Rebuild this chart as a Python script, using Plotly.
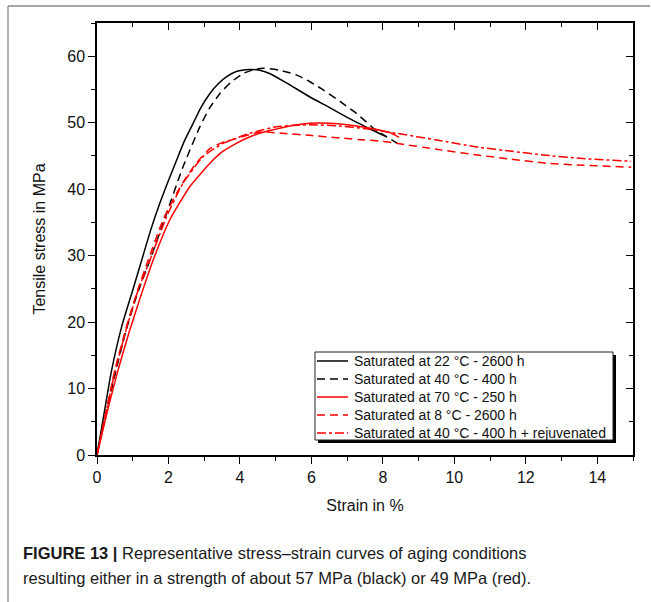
import plotly.graph_objects as go

# ---- data ----
names = [
    "Saturated at 22 °C - 2600 h",
    "Saturated at 40 °C - 400 h",
    "Saturated at 70 °C - 250 h",
    "Saturated at 8 °C - 2600 h",
    "Saturated at 40 °C - 400 h + rejuvenated",
]

strain_22 = [0, 0.2, 0.4, 0.7, 1.0, 1.25, 1.5, 1.76, 2.0, 2.23, 2.45, 2.69, 2.9, 3.16, 3.4, 3.62, 3.9,
             4.27, 4.55, 4.83, 5.3, 5.95, 6.5, 7.0, 7.4, 7.7, 8.1]
stress_22 = [0, 6.3, 12.5, 19.5, 24.8, 29.3, 33.8, 37.9, 41.3, 44.4, 47.3, 49.9, 52.2, 54.4, 55.9, 56.9, 57.7,
             58.0, 57.9, 57.4, 56.0, 53.9, 52.3, 50.8, 49.7, 48.9, 47.9]

strain_40 = [0, 0.25, 0.5, 0.8, 1.1, 1.48, 1.95, 2.41, 2.88, 3.15, 3.44, 3.75, 4.09, 4.4, 4.65, 5.1,
             5.58, 5.95, 6.31, 6.8, 7.26, 7.8, 8.1, 8.4]
stress_40 = [0, 6.2, 12.0, 18.5, 23.8, 29.3, 36.4, 43.4, 49.4, 52.2, 54.4, 56.1, 57.4, 58.0, 58.2, 57.9,
             57.2, 56.2, 55.0, 53.2, 51.4, 48.9, 47.9, 46.9]

strain_70 = [0, 0.3, 0.59, 0.9, 1.2, 1.57, 2.04, 2.6, 3.16, 3.5, 3.9, 4.2, 4.55, 4.9, 5.3, 5.95,
             6.5, 7.0, 7.5, 7.9, 8.2, 8.45]
stress_70 = [0, 6.8, 12.8, 18.5, 23.5, 29.3, 35.4, 40.4, 43.9, 45.6, 46.9, 47.7, 48.4, 48.9, 49.4, 49.9,
             49.9, 49.7, 49.3, 48.9, 48.5, 47.8]

strain_8 = [0, 0.25, 0.5, 0.85, 1.15, 1.43, 1.85, 2.23, 2.5, 2.78, 3.16, 3.5, 3.9, 4.55, 5.2, 5.95,
            6.8, 7.5, 8.0, 8.38, 9.5, 10.7, 11.6, 12.57, 13.6, 14.95]
stress_8 = [0, 6.5, 12.8, 19.8, 25.0, 29.3, 35.4, 39.4, 41.8, 43.9, 46.1, 47.0, 47.6, 48.6, 48.4, 48.1,
            47.7, 47.4, 47.2, 46.9, 46.0, 45.1, 44.5, 43.9, 43.6, 43.3]

strain_rej = [0, 0.25, 0.5, 0.85, 1.15, 1.48, 1.95, 2.41, 2.97, 3.53, 4.27, 5.02, 5.95, 6.8, 7.5, 8.0,
              8.38, 9.5, 10.7, 11.6, 12.57, 13.6, 14.95]
stress_rej = [0, 6.3, 12.5, 19.5, 24.8, 29.3, 35.9, 40.9, 44.9, 46.9, 48.4, 49.4, 49.7, 49.5, 49.1, 48.7,
              48.4, 47.4, 46.3, 45.7, 45.1, 44.6, 44.2]

x_ticks = [0, 2, 4, 6, 8, 10, 12, 14]
y_ticks = [0, 10, 20, 30, 40, 50, 60]

caption_bold = "FIGURE 13 |"
caption_1 = " Representative stress–strain curves of aging conditions"
caption_2 = "resulting either in a strength of about 57 MPa (black) or 49 MPa (red)."

# ---- geometry (pixels) ----
W, H = 651, 602
L, R, T, B = 97, 633, 23, 455
pw, ph = R - L, B - T


def px(xp):
    return (xp - L) / pw


def py(yp):
    return (B - yp) / ph


FONT = "Liberation Sans, Arial, sans-serif"

styles = [
    ("black", "solid"),
    ("black", "8px,5px"),
    ("#ff0000", "solid"),
    ("#ff0000", "8px,5px"),
    ("#ff0000", "9px,3px,3px,3px"),
]
curves = [
    (strain_22, stress_22),
    (strain_40, stress_40),
    (strain_70, stress_70),
    (strain_8, stress_8),
    (strain_rej, stress_rej),
]

fig = go.Figure()
for (xs, ys), (col, dash), nm in zip(curves, styles, names):
    fig.add_trace(go.Scatter(x=xs, y=ys, mode="lines", name=nm, showlegend=False,
                             line=dict(color=col, width=1.5, dash=dash, shape="spline", smoothing=0.5)))

axis_common = dict(showline=True, linecolor="black", linewidth=1.5, showgrid=False, zeroline=False,
                   tickcolor="black", tickwidth=1.3, ticklen=7)
tick_font = dict(family=FONT, size=16, color="#111")

fig.update_layout(
    width=W, height=H,
    margin=dict(l=L, r=W - R, t=T, b=H - B),
    paper_bgcolor="white", plot_bgcolor="white",
    showlegend=False,
    xaxis=dict(range=[0, 15], tickvals=x_ticks, ticks="outside", tickfont=tick_font,
               minor=dict(dtick=1, ticks="outside", ticklen=4, tickcolor="black", tickwidth=1.3),
               title=dict(text="Strain in %", font=dict(family=FONT, size=16, color="#111"), standoff=15),
               **axis_common),
    yaxis=dict(range=[0, 65], tickvals=y_ticks, ticks="outside", tickfont=tick_font,
               minor=dict(dtick=5, ticks="outside", ticklen=4, tickcolor="black", tickwidth=1.3),
               title=dict(text="Tensile stress in MPa", font=dict(family=FONT, size=16, color="#111"), standoff=18),
               **axis_common),
    xaxis2=dict(range=[0, 15], overlaying="x", side="top", tickvals=x_ticks, ticks="inside",
                showticklabels=False,
                minor=dict(dtick=1, ticks="inside", ticklen=4, tickcolor="black", tickwidth=1.3),
                **axis_common),
    yaxis2=dict(range=[0, 65], overlaying="y", side="right", tickvals=y_ticks, ticks="inside",
                showticklabels=False,
                minor=dict(dtick=5, ticks="inside", ticklen=4, tickcolor="black", tickwidth=1.3),
                **axis_common),
)

# invisible trace so the top/right mirror axes are drawn
fig.add_trace(go.Scatter(x=[None], y=[None], xaxis="x2", yaxis="y2", showlegend=False, hoverinfo="skip"))

# ---- legend box (drawn by hand to match the compact row spacing) ----
LG_L, LG_R, LG_T, LG_B = 315, 613, 352, 440
fig.add_shape(type="rect", xref="paper", yref="paper", layer="above",
              x0=px(LG_L + 3), x1=px(LG_R + 3), y0=py(LG_B + 3), y1=py(LG_T + 3),
              fillcolor="black", line=dict(width=0))
fig.add_shape(type="rect", xref="paper", yref="paper", layer="above",
              x0=px(LG_L), x1=px(LG_R), y0=py(LG_B), y1=py(LG_T),
              fillcolor="white", line=dict(color="#222", width=1))
row_y = [361, 379, 397, 415, 433]
for ry, (col, dash), nm in zip(row_y, styles, names):
    fig.add_shape(type="line", xref="paper", yref="paper", layer="above",
                  x0=px(317), x1=px(348), y0=py(ry), y1=py(ry),
                  line=dict(color=col, width=1.5, dash=dash))
    fig.add_annotation(xref="paper", yref="paper", x=px(352), y=py(ry), xanchor="left", yanchor="middle",
                       showarrow=False, text=nm, font=dict(family=FONT, size=14, color="#111"))

# figure frame (gray lines, top and left)
fig.add_shape(type="line", xref="paper", yref="paper", x0=px(8), x1=px(650), y0=py(6), y1=py(6),
              line=dict(color="#8a8a8a", width=1.3))
fig.add_shape(type="line", xref="paper", yref="paper", x0=px(8), x1=px(8), y0=py(6), y1=py(602),
              line=dict(color="#8a8a8a", width=1.3))

CAP_FONT = "Liberation Sans, Arial, sans-serif"
fig.add_annotation(xref="paper", yref="paper", x=px(21), y=py(553), xanchor="left", yanchor="middle",
                   showarrow=False, align="left",
                   text="<b>" + caption_bold + "</b>" + caption_1,
                   font=dict(family=CAP_FONT, size=16.5, color="#1a1a1a"))
fig.add_annotation(xref="paper", yref="paper", x=px(21), y=py(578), xanchor="left", yanchor="middle",
                   showarrow=False, align="left", text=caption_2,
                   font=dict(family=CAP_FONT, size=16.5, color="#1a1a1a"))

fig.write_html("out.html")
